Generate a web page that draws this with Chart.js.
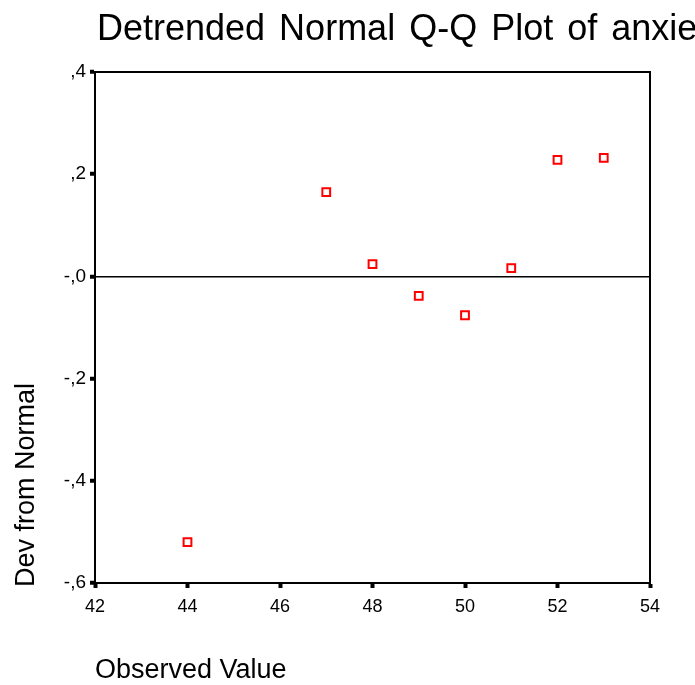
<!DOCTYPE html>
<html lang="en">
<head>
  <meta charset="UTF-8" />
  <title>Detrended Normal Q-Q Plot</title>
  <script src="https://cdn.jsdelivr.net/npm/chart.js"></script>
  <style>
    html, body { margin: 0; padding: 0; background: #fff; }
    #wrap { width: 695px; height: 685px; }
  </style>
</head>
<body>
  <div id="wrap"><canvas id="qq" width="695" height="685"></canvas></div>

  <script>
    // values
    const chartTitle = 'Detrended Normal Q-Q Plot of anxiety';
    const xTitle = 'Observed Value';
    const yTitle = 'Dev from Normal';
    const observed = [44, 47, 48, 49, 50, 51, 52, 53];
    const devFromNormal = [-0.520, 0.165, 0.024, -0.038, -0.076, 0.016, 0.228, 0.232];
    const yTickLabels = ['-,6', '-,4', '-,2', '-,0', ',2', ',4'];

    const FONT = '"Liberation Sans", Arial, sans-serif';

    // frame on top/right + the titles
    const framePlugin = {
      id: 'frame',
      afterDraw(chart) {
        const { ctx, chartArea: a } = chart;
        ctx.save();
        ctx.strokeStyle = '#000';
        ctx.lineWidth = 2;
        ctx.beginPath();
        ctx.moveTo(a.left, a.top);
        ctx.lineTo(a.right, a.top);
        ctx.lineTo(a.right, a.bottom);
        ctx.stroke();

        ctx.fillStyle = '#000';
        ctx.textAlign = 'left';
        ctx.textBaseline = 'alphabetic';
        ctx.font = '36px ' + FONT;
        ctx.wordSpacing = '4px';
        ctx.fillText(chartTitle, a.left + 2, 40);
        ctx.wordSpacing = '0px';

        ctx.font = '27px ' + FONT;
        ctx.fillText(xTitle, a.left, 678);

        ctx.translate(34, a.bottom + 4);
        ctx.rotate(-Math.PI / 2);
        ctx.fillText(yTitle, 0, 0);
        ctx.restore();
      }
    };

    const ctx = document.getElementById('qq').getContext('2d');
    new Chart(ctx, {
      type: 'scatter',
      data: {
        datasets: [{
          data: observed.map((x, i) => ({ x: x, y: devFromNormal[i] })),
          pointStyle: 'rect',
          pointRadius: 5.5,
          pointBorderWidth: 2,
          borderColor: '#ff0000',
          backgroundColor: '#ffffff'
        }]
      },
      options: {
        responsive: false,
        animation: false,
        layout: { padding: { top: 72, right: 45, left: 0, bottom: 0 } },
        plugins: {
          legend: { display: false },
          tooltip: { enabled: false }
        },
        scales: {
          x: {
            type: 'linear',
            min: 42,
            max: 54,
            afterFit: s => { s.height = 102; },
            border: { color: '#000', width: 2 },
            grid: { drawOnChartArea: false, tickColor: '#000', tickLength: 5, tickWidth: 4 },
            ticks: { stepSize: 2, color: '#000', padding: 8, font: { family: FONT, size: 18 } }
          },
          y: {
            min: -0.6,
            max: 0.4,
            afterFit: s => { s.width = 95; },
            border: { color: '#000', width: 2 },
            grid: {
              color: c => (c.tick && Math.abs(c.tick.value) < 1e-9 ? '#000' : 'rgba(0,0,0,0)'),
              lineWidth: 1.5,
              tickColor: '#000',
              tickLength: 5,
              tickWidth: 4
            },
            ticks: {
              stepSize: 0.2,
              color: '#000',
              padding: 4,
              font: { family: FONT, size: 19 },
              callback: (v, i) => yTickLabels[i]
            }
          }
        }
      },
      plugins: [framePlugin]
    });
  </script>
</body>
</html>
